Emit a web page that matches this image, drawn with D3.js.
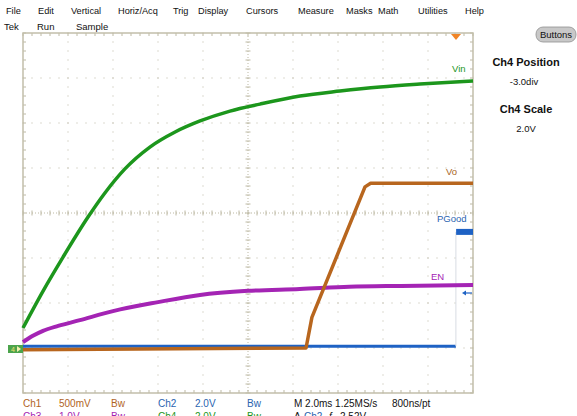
<!DOCTYPE html>
<html>
<head>
<meta charset="utf-8">
<script src="https://cdn.jsdelivr.net/npm/d3@7"></script>
<style>
  body { margin: 0; background: #fff; }
  text { font-family: "Liberation Sans", Arial, sans-serif; }
</style>
</head>
<body>
<div id="scope"></div>
<script>
// menu + status
var menuItems = ["File", "Edit", "Vertical", "Horiz/Acq", "Trig", "Display", "Cursors", "Measure", "Masks", "Math", "Utilities", "Help"];
var menuX = [6, 38, 71, 118, 173, 198, 246, 298, 346, 378, 418, 465];
var statusItems = ["Tek", "Run", "Sample"];
var statusX = [4, 37, 76];

// traces: time in ms, value in volts
var timeVin = [0, 0.89, 1.78, 2.89, 3.64, 4.53, 5.64, 6.76, 7.87, 9.2, 10.53, 12.31, 14.09, 15.87, 17.64, 20];
var vin     = [0.89, 2.53, 4.04, 5.82, 6.89, 7.96, 8.93, 9.6, 10.09, 10.53, 10.84, 11.2, 11.42, 11.6, 11.73, 11.87];

var timeEn = [0, 0.44, 0.89, 1.56, 2.53, 4.0, 6.0, 7.87, 10.0, 12.3, 14.5, 16.8, 20];
var en     = [0.13, 0.27, 0.38, 0.49, 0.62, 0.82, 1.02, 1.18, 1.27, 1.31, 1.36, 1.38, 1.40];

var timeVo = [0, 12.58, 12.84, 15.2, 15.45, 20];
var vo     = [-0.02, 0.0, 0.34, 1.79, 1.83, 1.83];

var timePg = [0, 19.24];
var pgLow  = [0.08, 0.08];
var timePgHigh = [19.25, 20];
var pgHigh = [5.16, 5.16];

// channel settings (V/div, position div)
var chScale = {ch1: 0.5, ch2: 2.0, ch3: 1.0, ch4: 2.0};
var chPos = -3.0;

var grid = {left: 23, right: 473, top: 33, bottom: 393};

var svg = d3.select("#scope").append("svg")
    .attr("width", 577)
    .attr("height", 416);

var x = d3.scaleLinear().domain([0, 20]).range([grid.left, grid.right]);
var y = d3.scaleLinear().domain([-4, 4]).range([grid.bottom, grid.top]);
var xDiv = d3.scaleLinear().domain([0, 10]).range([grid.left, grid.right]);

// menu text
svg.selectAll(".menu").data(menuItems).enter().append("text")
    .attr("x", function(d, i){ return menuX[i]; })
    .attr("y", 14)
    .attr("font-size", 9.2)
    .attr("fill", "#111")
    .text(function(d){ return d; });

svg.selectAll(".status").data(statusItems).enter().append("text")
    .attr("x", function(d, i){ return statusX[i]; })
    .attr("y", 30)
    .attr("font-size", 9.5)
    .attr("fill", "#111")
    .text(function(d){ return d; });

// graticule
var gcol = "#bdb9a4";
var g = svg.append("g");
var minor = d3.range(0, 10.001, 0.2);
var minorY = d3.range(-4, 4.001, 0.2);

// dotted major lines
[1, 2, 3, 4, 6, 7, 8, 9].forEach(function(k){
    g.selectAll(null).data(minorY).enter().append("rect")
        .attr("x", xDiv(k) - 0.5).attr("y", function(d){ return y(d) - 0.5; })
        .attr("width", 1).attr("height", 1).attr("fill", gcol);
});
[-3, -2, -1, 1, 2, 3].forEach(function(k){
    g.selectAll(null).data(minor).enter().append("rect")
        .attr("x", function(d){ return xDiv(d) - 0.5; }).attr("y", y(k) - 0.5)
        .attr("width", 1).attr("height", 1).attr("fill", gcol);
});

// center lines with ticks
g.append("line").attr("x1", grid.left).attr("x2", grid.right)
    .attr("y1", y(0)).attr("y2", y(0))
    .attr("stroke", gcol).attr("stroke-dasharray", "1,2");
g.append("line").attr("x1", xDiv(5)).attr("x2", xDiv(5))
    .attr("y1", grid.top).attr("y2", grid.bottom)
    .attr("stroke", gcol).attr("stroke-dasharray", "1,2");
g.selectAll(null).data(minor).enter().append("line")
    .attr("x1", function(d){ return xDiv(d); }).attr("x2", function(d){ return xDiv(d); })
    .attr("y1", y(0) - 2.5).attr("y2", y(0) + 2.5)
    .attr("stroke", gcol);
g.selectAll(null).data(minorY).enter().append("line")
    .attr("y1", function(d){ return y(d); }).attr("y2", function(d){ return y(d); })
    .attr("x1", xDiv(5) - 2.5).attr("x2", xDiv(5) + 2.5)
    .attr("stroke", gcol);

// edge ticks
g.selectAll(null).data(minor).enter().append("line")
    .attr("x1", function(d){ return xDiv(d); }).attr("x2", function(d){ return xDiv(d); })
    .attr("y1", grid.top).attr("y2", grid.top + 3)
    .attr("stroke", gcol);
g.selectAll(null).data(minor).enter().append("line")
    .attr("x1", function(d){ return xDiv(d); }).attr("x2", function(d){ return xDiv(d); })
    .attr("y1", grid.bottom).attr("y2", grid.bottom - 3)
    .attr("stroke", gcol);
g.selectAll(null).data(minorY).enter().append("line")
    .attr("y1", function(d){ return y(d); }).attr("y2", function(d){ return y(d); })
    .attr("x1", grid.left).attr("x2", grid.left + 3)
    .attr("stroke", gcol);
g.selectAll(null).data(minorY).enter().append("line")
    .attr("y1", function(d){ return y(d); }).attr("y2", function(d){ return y(d); })
    .attr("x1", grid.right).attr("x2", grid.right - 3)
    .attr("stroke", gcol);

g.append("rect")
    .attr("x", grid.left).attr("y", grid.top)
    .attr("width", grid.right - grid.left).attr("height", grid.bottom - grid.top)
    .attr("fill", "none").attr("stroke", "#c2beaa").attr("stroke-width", 1.5);

// traces
function toDiv(v, s){ return chPos + v / s; }
function pairs(t, v, s){ return t.map(function(d, i){ return [d, toDiv(v[i], s)]; }); }

var line = d3.line()
    .x(function(d){ return x(d[0]); })
    .y(function(d){ return y(d[1]); })
    .curve(d3.curveMonotoneX);

var lineStraight = d3.line()
    .x(function(d){ return x(d[0]); })
    .y(function(d){ return y(d[1]); });

// pgood (ch2)
svg.append("path").datum(pairs(timePg, pgLow, chScale.ch2))
    .attr("d", lineStraight).attr("fill", "none")
    .attr("stroke", "#1e62c4").attr("stroke-width", 3);
svg.append("line")
    .attr("x1", x(19.24)).attr("x2", x(19.24))
    .attr("y1", y(toDiv(pgHigh[0], chScale.ch2))).attr("y2", y(toDiv(pgLow[0], chScale.ch2)))
    .attr("stroke", "#d8dce4").attr("stroke-width", 1);
svg.append("path").datum(pairs(timePgHigh, pgHigh, chScale.ch2))
    .attr("d", lineStraight).attr("fill", "none")
    .attr("stroke", "#1e62c4").attr("stroke-width", 6);

// en (ch3)
svg.append("path").datum(pairs(timeEn, en, chScale.ch3))
    .attr("d", line).attr("fill", "none")
    .attr("stroke", "#a424b4").attr("stroke-width", 4);

// vin (ch4)
svg.append("path").datum(pairs(timeVin, vin, chScale.ch4))
    .attr("d", line).attr("fill", "none")
    .attr("stroke", "#1c961c").attr("stroke-width", 3.5);

// vo (ch1)
svg.append("path").datum(pairs(timeVo, vo, chScale.ch1))
    .attr("d", lineStraight).attr("fill", "none")
    .attr("stroke", "#b8661e").attr("stroke-width", 3.5)
    .attr("stroke-linejoin", "round");

// trace labels
svg.append("text").attr("x", 452).attr("y", 72).attr("font-size", 9.5).attr("fill", "#1c961c").text("Vin");
svg.append("text").attr("x", 446).attr("y", 175).attr("font-size", 9.5).attr("fill", "#a8641e").text("Vo");
svg.append("text").attr("x", 437).attr("y", 222).attr("font-size", 9.5).attr("fill", "#2a64b0").text("PGood");
svg.append("text").attr("x", 431).attr("y", 280).attr("font-size", 9.5).attr("fill", "#a424b4").text("EN");

// ch2 level arrow
svg.append("line").attr("x1", 472).attr("x2", 464).attr("y1", 293).attr("y2", 293)
    .attr("stroke", "#1e62c4").attr("stroke-width", 1.2);
svg.append("path").attr("d", "M462,293 L466,290.5 L466,295.5 Z").attr("fill", "#1e62c4");

// trigger marker
svg.append("path").attr("d", "M451,34 L461,34 L456,40 Z").attr("fill", "#f08426");

// ground marker
svg.append("rect").attr("x", 8).attr("y", 345).attr("width", 15).attr("height", 8).attr("fill", "#4ca44c");
svg.append("text").attr("x", 11).attr("y", 352).attr("font-size", 7).attr("fill", "#f4e070").text("4");
svg.append("path").attr("d", "M17,346 L21,349 L17,352 Z").attr("fill", "#f4f0b0");

// right panel
var btn = svg.append("g");
btn.append("rect").attr("x", 536).attr("y", 27).attr("width", 40).attr("height", 15)
    .attr("rx", 7).attr("fill", "#c8c8c8").attr("stroke", "#909090").attr("stroke-width", 0.8);
btn.append("text").attr("x", 556).attr("y", 38).attr("text-anchor", "middle")
    .attr("font-size", 9.5).attr("fill", "#111").text("Buttons");

svg.append("text").attr("x", 526).attr("y", 66).attr("text-anchor", "middle")
    .attr("font-size", 11).attr("font-weight", "bold").attr("fill", "#111").text("Ch4 Position");
svg.append("text").attr("x", 524).attr("y", 85).attr("text-anchor", "middle")
    .attr("font-size", 9.5).attr("fill", "#111").text("-3.0div");
svg.append("text").attr("x", 526).attr("y", 113).attr("text-anchor", "middle")
    .attr("font-size", 11).attr("font-weight", "bold").attr("fill", "#111").text("Ch4 Scale");
svg.append("text").attr("x", 526).attr("y", 132).attr("text-anchor", "middle")
    .attr("font-size", 9.5).attr("fill", "#111").text("2.0V");

// readout
var row1 = [
    {t: "Ch1", x: 23, c: "#b0641e"}, {t: "500mV", x: 59, c: "#b0641e"}, {t: "Bw", x: 111, c: "#b0641e"},
    {t: "Ch2", x: 158, c: "#2a64b0"}, {t: "2.0V", x: 195, c: "#2a64b0"}, {t: "Bw", x: 247, c: "#2a64b0"},
    {t: "M 2.0ms 1.25MS/s", x: 294, c: "#111"}, {t: "800ns/pt", x: 392, c: "#111"}
];
var row2 = [
    {t: "Ch3", x: 23, c: "#a424b4"}, {t: "1.0V", x: 59, c: "#a424b4"}, {t: "Bw", x: 111, c: "#a424b4"},
    {t: "Ch4", x: 158, c: "#1c961c"}, {t: "2.0V", x: 195, c: "#1c961c"}, {t: "Bw", x: 247, c: "#1c961c"},
    {t: "A", x: 294, c: "#111"}, {t: "Ch2", x: 304, c: "#2a64b0"}, {t: "\u0192", x: 328, c: "#111"}, {t: "2.52V", x: 340, c: "#111"}
];
svg.selectAll(".r1").data(row1).enter().append("text")
    .attr("x", function(d){ return d.x; }).attr("y", 407)
    .attr("font-size", 10).attr("fill", function(d){ return d.c; })
    .text(function(d){ return d.t; });
svg.selectAll(".r2").data(row2).enter().append("text")
    .attr("x", function(d){ return d.x; }).attr("y", 420)
    .attr("font-size", 10).attr("fill", function(d){ return d.c; })
    .text(function(d){ return d.t; });
</script>
</body>
</html>
